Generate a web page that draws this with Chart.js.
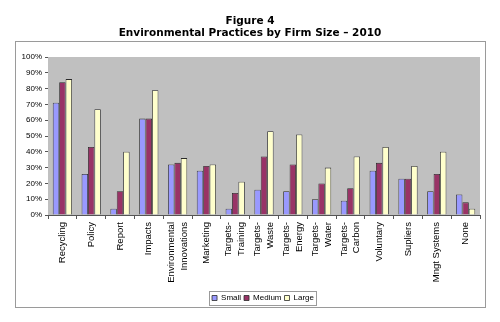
<!DOCTYPE html>
<html>
<head>
<meta charset="utf-8">
<script src="https://cdn.jsdelivr.net/npm/chart.js@4"></script>
<style>
  html, body { margin: 0; padding: 0; background: #fff; }
  #wrap { width: 500px; height: 322px; position: relative; }
</style>
</head>
<body>
<div id="wrap"><canvas id="practicesChart"></canvas></div>
<script>
const practices = [
  'Recycling', 'Policy', 'Report', 'Impacts',
  ['Environmental', 'Innovations'], 'Marketing',
  ['Targets-', 'Training'], ['Targets-', 'Waste'], ['Targets-', 'Energy'],
  ['Targets-', 'Water'], ['Targets-', 'Carbon'], 'Voluntary',
  'Supliers', 'Mngt Systems', 'None'
];

// percent of firms in each size class
const small  = [71, 26, 4, 61, 32, 28, 4, 16, 15, 10, 9, 28, 23, 15, 13];
const medium = [84, 43, 15, 61, 33, 31, 14, 37, 32, 20, 17, 33, 23, 26, 8];
const large  = [86, 67, 40, 79, 36, 32, 21, 53, 51, 30, 37, 43, 31, 40, 4];

const yTicks = [0, 10, 20, 30, 40, 50, 60, 70, 80, 90, 100];

const titleLines = ['Figure 4', 'Environmental Practices by Firm Size \u2013 2010'];

const X_FONT = 9.5;
const X_LINE = 1.35;

// frame round the whole chart, the heading above it and a box round the legend
const decorations = {
  id: 'decorations',
  afterLayout(chart) {
    // legend sits a little right of the centre
    chart.legend.left += 23;
    chart.legend.right += 23;
  },
  beforeDraw(chart) {
    const ctx = chart.ctx;
    ctx.save();
    ctx.strokeStyle = '#9a9a9a';
    ctx.lineWidth = 1;
    ctx.strokeRect(15.5, 41.5, 470, 266);
    ctx.fillStyle = '#000';
    ctx.font = 'bold 10.5px "DejaVu Sans"';
    ctx.textAlign = 'center';
    ctx.textBaseline = 'middle';
    ctx.fillText(titleLines[0], 250, 21);
    ctx.fillText(titleLines[1], 250, 33.5);
    ctx.restore();

    // two-line category names: centre both lines on the tick instead of starting there
    const items = chart.scales.x.getLabelItems();
    items.forEach(item => {
      if (Array.isArray(item.label) && item.label.length > 1 && !item.centred) {
        item.options.translation[0] -= (item.label.length - 1) * X_FONT * X_LINE / 2;
        item.centred = true;
      }
    });
  },
  afterDraw(chart) {
    const boxes = chart.legend.legendHitBoxes;
    if (!boxes || !boxes.length) return;
    const left = Math.min(...boxes.map(b => b.left)) - 3;
    const right = Math.max(...boxes.map(b => b.left + b.width)) + 2;
    const top = Math.min(...boxes.map(b => b.top)) - 3;
    const bottom = Math.max(...boxes.map(b => b.top + b.height)) + 3;
    const ctx = chart.ctx;
    ctx.save();
    ctx.strokeStyle = '#9a9a9a';
    ctx.lineWidth = 1;
    ctx.strokeRect(Math.round(left) + 0.5, Math.round(top) + 0.5, Math.round(right - left), Math.round(bottom - top));
    ctx.restore();
  }
};

// grey plotting area
const plotBackground = {
  id: 'plotBackground',
  beforeDatasetsDraw(chart) {
    const { ctx, chartArea: a } = chart;
    ctx.save();
    ctx.fillStyle = '#c0c0c0';
    ctx.fillRect(a.left, a.top, a.right - a.left, a.bottom - a.top);
    ctx.restore();
  }
};

const ctx = document.getElementById('practicesChart').getContext('2d');
new Chart(ctx, {
  type: 'bar',
  data: {
    labels: practices,
    datasets: [
      { label: 'Small',  data: small,  backgroundColor: '#9999ff' },
      { label: 'Medium', data: medium, backgroundColor: '#993366' },
      { label: 'Large',  data: large,  backgroundColor: '#ffffcc' }
    ].map(d => Object.assign(d, {
      borderColor: '#2a2a2a',
      borderWidth: 0.8,
      borderSkipped: 'bottom',
      categoryPercentage: 0.667,
      barPercentage: 1
    }))
  },
  options: {
    responsive: true,
    maintainAspectRatio: false,
    animation: false,
    layout: { padding: { top: 57, right: 20, bottom: 10, left: 0 } },
    scales: {
      x: {
        offset: true,
        grid: {
          offset: true,
          drawOnChartArea: false,
          drawTicks: true,
          tickLength: 4,
          color: '#555'
        },
        border: { color: '#555' },
        ticks: {
          autoSkip: false,
          minRotation: 90,
          maxRotation: 90,
          padding: 3,
          color: '#000',
          font: { family: '"Liberation Sans"', size: X_FONT, lineHeight: X_LINE }
        },
        afterFit(scale) { scale.height = 76; }
      },
      y: {
        min: 0,
        max: 100,
        afterBuildTicks(scale) { scale.ticks = yTicks.map(v => ({ value: v })); },
        grid: { color: '#8a8a8a', tickLength: 3, tickColor: '#555' },
        border: { color: '#555' },
        ticks: {
          padding: 3,
          color: '#000',
          font: { family: '"Liberation Sans"', size: 8 },
          callback: v => v + '%'
        },
        afterFit(scale) { scale.width = 48; }
      }
    },
    plugins: {
      title: { display: false },
      tooltip: { enabled: false },
      legend: {
        position: 'bottom',
        labels: {
          color: '#000',
          boxWidth: 5,
          boxHeight: 5,
          padding: 3,
          font: { family: '"Liberation Sans"', size: 8 }
        }
      }
    }
  },
  plugins: [plotBackground, decorations]
});
</script>
</body>
</html>
